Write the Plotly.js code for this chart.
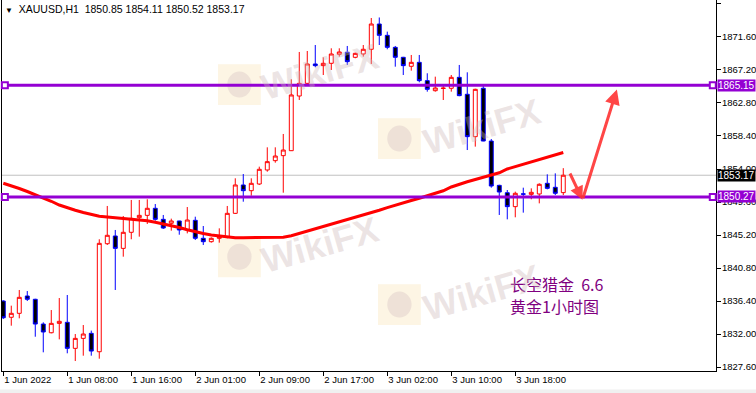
<!DOCTYPE html>
<html>
<head>
<meta charset="utf-8">
<script src="https://cdn.plot.ly/plotly-3.0.1.min.js"></script>
<style>
html,body{margin:0;padding:0;background:#fff;}
#chart{width:756px;height:393px;}
</style>
</head>
<body>
<div id="chart"></div>
<script>
// ---- data (XAUUSD H1) ----
const openP  = [1836.40,1834.23,1834.76,1837.07,1836.63,1833.33,1832.17,1833.42,1833.56,1830.09,
                1831.42,1832.09,1829.64,1844.04,1845.07,1843.42,1845.56,1847.51,1847.82,1848.76,
                1847.29,1846.76,1847.07,1845.87,1847.16,1844.76,1844.31,1844.76,1844.89,1848.09,
                1851.87,1851.11,1852.00,1853.87,1855.11,1855.78,1856.44,1863.73,1865.42,1868.00,
                1867.78,1868.09,1869.29,1869.56,1868.89,1869.33,1869.96,1873.33,1871.82,1870.22,
                1868.89,1867.69,1868.22,1865.78,1864.44,1864.73,1864.76,1866.22,1863.96,1858.31,
                1864.76,1857.73,1851.82,1850.84,1848.98,1850.69,1850.62,1850.67,1852.09,1851.56,
                1850.85];
const highP  = [1836.50,1835.78,1837.87,1837.73,1836.70,1833.56,1835.20,1836.80,1837.20,1832.00,
                1833.20,1832.45,1844.63,1849.07,1845.87,1847.73,1849.87,1849.87,1849.96,1849.33,
                1847.87,1847.38,1847.10,1848.93,1847.64,1846.40,1844.89,1846.09,1849.07,1852.76,
                1853.33,1852.76,1854.31,1856.89,1856.89,1858.67,1865.96,1869.60,1869.73,1870.53,
                1868.89,1870.09,1870.09,1870.40,1869.51,1870.53,1874.13,1874.20,1872.31,1870.40,
                1868.95,1869.20,1869.20,1866.76,1866.31,1865.20,1866.53,1867.87,1866.89,1864.70,
                1865.20,1858.00,1851.90,1851.20,1850.98,1851.51,1851.42,1852.09,1853.29,1853.42,
                1854.11];
const lowP   = [1834.00,1833.11,1834.09,1836.40,1831.64,1829.56,1832.09,1831.29,1829.43,1828.40,
                1829.11,1829.11,1828.71,1843.87,1837.87,1842.31,1844.63,1844.98,1846.67,1847.11,
                1846.00,1845.78,1845.24,1845.42,1844.53,1843.87,1844.18,1844.18,1844.76,1848.00,
                1849.64,1850.44,1851.87,1853.64,1854.84,1850.84,1856.40,1863.20,1865.30,1867.56,
                1866.53,1867.20,1868.98,1867.87,1868.76,1868.98,1868.00,1870.53,1869.96,1867.64,
                1866.53,1867.11,1865.56,1864.31,1864.31,1863.20,1864.31,1863.70,1856.53,1856.98,
                1857.70,1851.51,1847.87,1847.29,1847.56,1848.18,1849.96,1849.42,1851.29,1850.53,
                1850.52];
const closeP = [1834.17,1834.76,1836.89,1836.63,1833.33,1832.27,1833.42,1833.69,1830.09,1831.42,
                1832.00,1829.73,1844.09,1845.16,1843.42,1845.56,1847.42,1847.82,1848.76,1847.29,
                1846.13,1847.07,1845.87,1847.20,1844.76,1844.31,1844.76,1844.98,1848.09,1851.87,
                1851.11,1852.09,1853.96,1854.98,1855.73,1856.53,1863.87,1865.42,1868.00,1867.78,
                1868.09,1869.33,1869.60,1868.31,1869.42,1869.96,1873.33,1871.82,1870.22,1868.89,
                1867.78,1868.22,1865.78,1864.62,1864.80,1864.78,1866.22,1863.78,1858.31,1864.62,
                1857.73,1851.73,1850.93,1848.98,1850.76,1850.64,1850.89,1851.96,1851.42,1850.76,
                1853.17];
const maLine = [1852.10,1851.80,1851.40,1851.00,1850.60,1850.20,1849.70,1849.20,1848.80,1848.50,
                1848.20,1847.90,1847.70,1847.60,1847.50,1847.45,1847.40,1847.30,1847.10,1846.90,
                1846.70,1846.50,1846.20,1845.90,1845.60,1845.40,1845.20,1845.05,1844.95,1844.85,
                1844.84,1844.84,1844.84,1844.84,1844.84,1844.90,1845.10,1845.40,1845.70,1846.00,
                1846.35,1846.70,1847.00,1847.30,1847.60,1847.90,1848.20,1848.50,1848.85,1849.20,
                1849.50,1849.80,1850.10,1850.45,1850.75,1851.10,1851.60,1852.00,1852.30,1852.60,
                1852.90,1853.25,1853.50,1854.00,1854.30,1854.60,1854.95,1855.30,1855.60,1855.90,
                1856.20];
const tickIdx   = [0, 8, 16, 24, 32, 40, 48, 56, 64];
const tickText  = ["1 Jun 2022","1 Jun 08:00","1 Jun 16:00","2 Jun 01:00","2 Jun 09:00",
                   "2 Jun 17:00","3 Jun 02:00","3 Jun 10:00","3 Jun 18:00"];
const priceTicks = [1827.60,1832.00,1836.40,1840.80,1845.20,1849.60,1854.00,1858.40,1862.80,1867.20,1871.60,1876.00];
const levels    = [1865.15, 1850.27];
const bidPrice  = 1853.17;
const symbol    = "XAUUSD,H1";
const ohlcLast  = ["1850.85","1854.11","1850.52","1853.17"];
const noteLines = ["长空猎金&nbsp;&nbsp;6.6", "黄金1小时图"];
// arrow path (bar index, price)
const arrowX = [70.75, 72.4, 76.7];
const arrowY = [1853.6, 1849.9, 1864.6];

const barIdx = openP.map((_, i) => i);

const PURPLE = '#9400d3';
const AXFONT = 'Liberation Sans, Arial';
const traces = [
  {
    type: 'candlestick', x: barIdx, open: openP, high: highP, low: lowP, close: closeP,
    increasing: {line: {color: '#ff0000', width: 1}, fillcolor: '#ffffff'},
    decreasing: {line: {color: '#0000ff', width: 1}, fillcolor: '#000000'},
    whiskerwidth: 0, hoverinfo: 'skip', showlegend: false
  },
  {
    type: 'scatter', mode: 'lines', x: barIdx, y: maLine,
    line: {color: '#ff0000', width: 3}, hoverinfo: 'skip', showlegend: false
  }
];

const shapes = [];
// watermark logos (paper coords)
const wmLogos = [[0.3025,0.7170],[0.5266,0.5714],[0.3025,0.2530],[0.5266,0.1240]];
wmLogos.forEach(p => {
  shapes.push({type:'rect', xref:'paper', yref:'paper', x0:p[0], x1:p[0]+0.060, y0:p[1], y1:p[1]+0.11,
               fillcolor:'rgba(252,236,205,0.55)', line:{width:0}, layer:'below'});
  shapes.push({type:'circle', xref:'paper', yref:'paper', x0:p[0]+0.013, x1:p[0]+0.047, y0:p[1]+0.02, y1:p[1]+0.09,
               fillcolor:'rgba(215,195,195,0.40)', line:{width:0}, layer:'below'});
});
shapes.push({type:'line', xref:'paper', x0:0, x1:1, yref:'y', y0:bidPrice, y1:bidPrice,
             line:{color:'#c0c0c0', width:1}, layer:'below'});
levels.forEach(l => {
  shapes.push({type:'line', xref:'paper', x0:0, x1:1, yref:'y', y0:l, y1:l,
               line:{color:PURPLE, width:3}});
  [0.004, 0.9955].forEach(px => {
    shapes.push({type:'rect', xref:'paper', xsizemode:'pixel', xanchor:px, x0:-3, x1:3,
                 yref:'y', ysizemode:'pixel', yanchor:l, y0:-3, y1:3,
                 fillcolor:'#ffffff', line:{color:PURPLE, width:2}});
  });
});
// bottom grey strip
shapes.push({type:'rect', xref:'paper', yref:'paper', x0:-0.01, x1:1.07, y0:-0.06, y1:-0.05,
             fillcolor:'#f0f0f0', line:{width:0}, layer:'below'});

const headerText = '<span style="font-size:8px">▼</span>&nbsp;&nbsp;' + symbol + '&nbsp;&nbsp;' + ohlcLast.join(' ');
const boxFont = {family:AXFONT, size:10, color:'#fff'};
const annotations = [
  {xref:'paper', yref:'paper', x:0, y:1, xanchor:'left', yanchor:'top', xshift:1, yshift:-1,
   text: headerText, showarrow:false, font:{family:AXFONT, size:10.5, color:'#000'}},
  {xref:'paper', yref:'y', x:1, y:levels[0], xanchor:'left', xshift:1, text: levels[0].toFixed(2),
   showarrow:false, bgcolor:PURPLE, borderpad:0, font:boxFont},
  {xref:'paper', yref:'y', x:1, y:levels[1], xanchor:'left', xshift:1, text: levels[1].toFixed(2),
   showarrow:false, bgcolor:PURPLE, borderpad:0, font:boxFont},
  {xref:'paper', yref:'y', x:1, y:bidPrice, xanchor:'left', xshift:1, text: bidPrice.toFixed(2),
   showarrow:false, bgcolor:'#000', borderpad:0, font:boxFont},
  {xref:'x', yref:'y', x:arrowX[1], y:arrowY[1], ax:arrowX[0], ay:arrowY[0], axref:'x', ayref:'y',
   text:'', showarrow:true, arrowhead:2, arrowsize:0.9, arrowwidth:3, arrowcolor:'rgba(255,50,50,0.9)'},
  {xref:'x', yref:'y', x:arrowX[2], y:arrowY[2], ax:arrowX[1], ay:arrowY[1], axref:'x', ayref:'y',
   text:'', showarrow:true, arrowhead:2, arrowsize:1, arrowwidth:3, arrowcolor:'rgba(255,50,50,0.9)'},
  {xref:'paper', yref:'paper', x:0.708, y:0.235, xanchor:'left', yanchor:'middle', showarrow:false,
   text: noteLines[0], font:{family:'Noto Sans CJK SC', size:16, color:'#800080'}},
  {xref:'paper', yref:'paper', x:0.708, y:0.175, xanchor:'left', yanchor:'middle', showarrow:false,
   text: noteLines[1], font:{family:'Noto Sans CJK SC', size:16, color:'#800080'}}
];
const wmText = [[0.446,0.806],[0.672,0.658],[0.446,0.340],[0.672,0.212]];
wmText.forEach(p => annotations.push({xref:'paper', yref:'paper', x:p[0], y:p[1], xanchor:'center', yanchor:'middle',
  showarrow:false, text:'<b>WikiFX</b>', textangle:-16,
  font:{family:'Liberation Sans, Arial', size:36, color:'rgba(205,185,185,0.38)'}}));

const layout = {
  width: 756, height: 393,
  margin: {l:2, r:40, t:0, b:22, pad:0},
  paper_bgcolor:'#ffffff', plot_bgcolor:'#ffffff',
  showlegend:false,
  xaxis: {
    range:[-0.16, 89.09], rangeslider:{visible:false}, showgrid:false, zeroline:false,
    tickmode:'array', tickvals: tickIdx, ticktext: tickText, tickangle:0,
    ticks:'outside', ticklen:4, tickcolor:'#000', tickwidth:1,
    ticklabelposition:'outside right',
    showline:true, linecolor:'#000', linewidth:1,
    tickfont:{family:AXFONT, size:9.5, color:'#000'}
  },
  yaxis: {
    side:'right', range:[1827.07, 1876.53], showgrid:false, zeroline:false,
    tickmode:'array', tickvals: priceTicks, ticktext: priceTicks.map(v => v.toFixed(2)),
    ticks:'outside', ticklen:4, tickcolor:'#000', tickwidth:1, ticklabelstandoff:-1,
    showline:true, mirror:true, linecolor:'#000', linewidth:1,
    tickfont:{family:AXFONT, size:9.5, color:'#000'}
  },
  shapes: shapes,
  annotations: annotations
};

Plotly.newPlot('chart', traces, layout, {staticPlot:true, displayModeBar:false});
</script>
</body>
</html>
